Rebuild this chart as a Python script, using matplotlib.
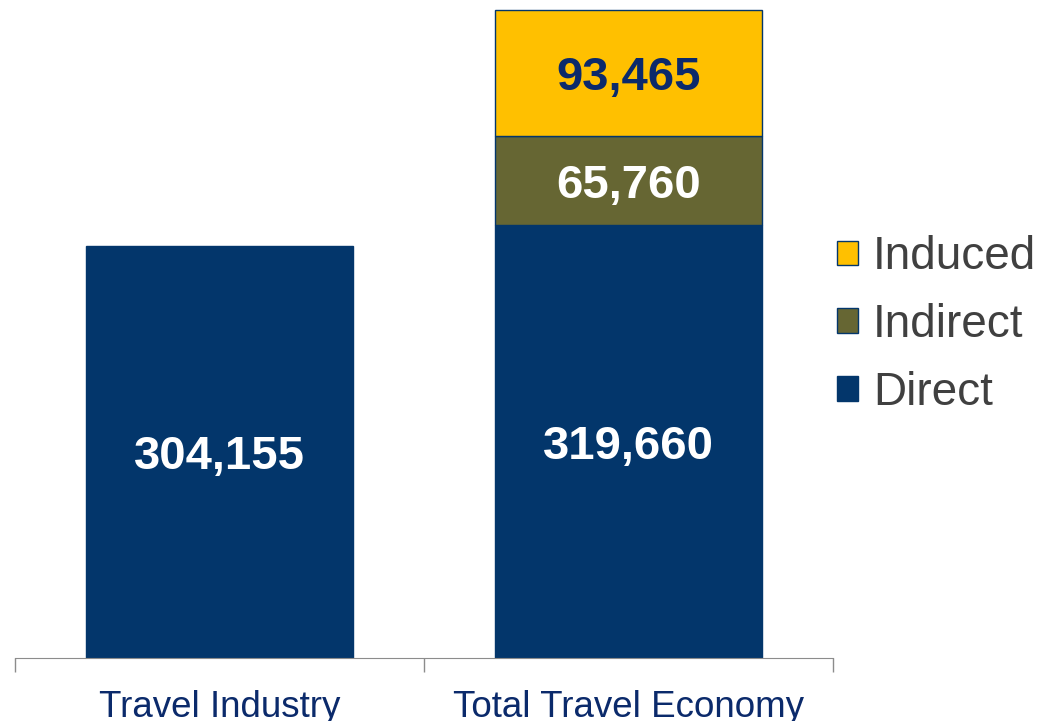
import numpy as np
import matplotlib.pyplot as plt
from matplotlib.patches import Patch

categories = ['Travel Industry', 'Total Travel Economy']
direct = [304155, 319660]
indirect = [0, 65760]
induced = [0, 93465]

c_direct = '#03366B'
c_indirect = '#666633'
c_induced = '#FFC000'
navy = '#0B2A6B'

plt.rcParams['font.family'] = ['Liberation Sans', 'DejaVu Sans']

fig = plt.figure(figsize=(10.57, 7.21), dpi=100)
ax = fig.add_axes([15 / 1057, 63 / 721, 818 / 1057, 650 / 721])

x = np.arange(len(categories))
w = 0.655
ax.bar(x, direct, w, color=c_direct, edgecolor=c_direct, linewidth=1)
bottom2 = np.array(direct)
ax.bar(x[1:], indirect[1:], w, bottom=bottom2[1:], color=c_indirect,
       edgecolor=c_direct, linewidth=1)
bottom3 = bottom2 + np.array(indirect)
ax.bar(x[1:], induced[1:], w, bottom=bottom3[1:], color=c_induced,
       edgecolor=c_direct, linewidth=1)

# value labels in the middle of each segment
lab = dict(ha='center', va='center_baseline', fontsize=34, fontweight='bold')
for i in x:
    ax.text(i, direct[i] / 2, f'{direct[i]:,}', color='white', **lab)
    if indirect[i]:
        ax.text(i, bottom2[i] + indirect[i] / 2, f'{indirect[i]:,}', color='white', **lab)
    if induced[i]:
        ax.text(i, bottom3[i] + induced[i] / 2, f'{induced[i]:,}', color=navy, **lab)

ax.set_xlim(-0.5, 1.5)
ax.set_ylim(0, 480000)
for s in ['top', 'left', 'right']:
    ax.spines[s].set_visible(False)
ax.spines['bottom'].set_color('#8C8C8C')
ax.set_yticks([])
ax.set_xticks(x)
ax.set_xticklabels(categories, fontsize=26.5, color=navy)
ax.tick_params(axis='x', which='major', length=0, pad=23)
ax.set_xticks([-0.5, 0.5, 1.5], minor=True)
ax.tick_params(axis='x', which='minor', length=10, color='#8C8C8C', width=1)

handles = [Patch(facecolor=c_induced, edgecolor=c_direct, label='Induced'),
           Patch(facecolor=c_indirect, edgecolor=c_direct, label='Indirect'),
           Patch(facecolor=c_direct, edgecolor=c_direct, label='Direct')]
leg = fig.legend(handles=handles, loc='center left', bbox_to_anchor=(796 / 1057, 1 - 325 / 721),
                 frameon=False, fontsize=33, handlelength=0.45, handleheight=0.45,
                 handletextpad=0.33, labelspacing=0.52)
for t in leg.get_texts():
    t.set_color('#404040')

fig.savefig('out.png', dpi=100)
